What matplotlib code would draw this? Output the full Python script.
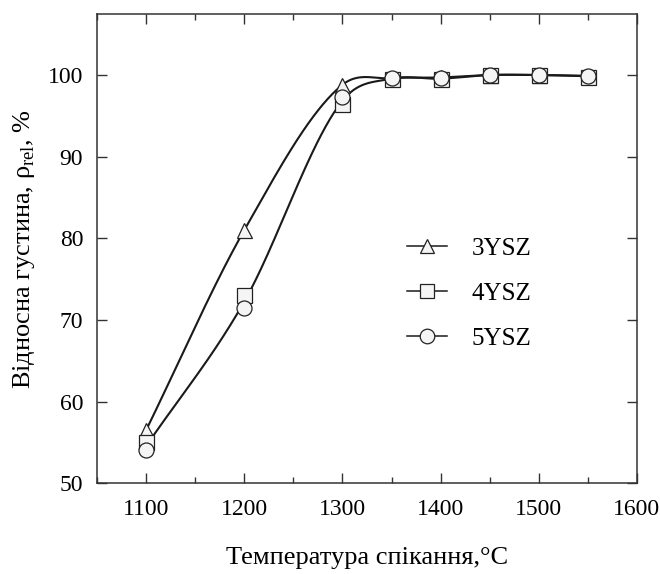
import numpy as np
import matplotlib
matplotlib.use("Agg")
import matplotlib.pyplot as plt
from matplotlib.ticker import MultipleLocator

plt.rcParams['font.family'] = ['Liberation Serif', 'DejaVu Serif']
plt.rcParams['mathtext.fontset'] = 'custom'
plt.rcParams['mathtext.rm'] = 'Liberation Serif'

# sintering temperature, deg C
temp = [1100, 1200, 1300, 1350, 1400, 1450, 1500, 1550]

# relative density, %
dens_3ysz = [56.5, 81.0, 98.8, 99.6, 99.7, 100.0, 100.0, 99.9]
dens_4ysz = [55.0, 73.0, 96.4, 99.5, 99.5, 100.0, 100.0, 99.8]
dens_5ysz = [54.1, 71.5, 97.3, 99.6, 99.6, 100.0, 100.0, 99.9]

labels = ["3YSZ", "4YSZ", "5YSZ"]
markers = ["^", "s", "o"]


def smooth(x, y, xs):
    # cubic Hermite curve, slope at each knot = mean of neighbouring chords
    x = np.asarray(x, float)
    y = np.asarray(y, float)
    h = np.diff(x)
    d = np.diff(y) / h
    n = len(x)
    m = np.zeros(n)
    m[0] = d[0]
    m[-1] = d[-1]
    for i in range(1, n-1):
        m[i] = 0.5*(d[i-1] + d[i])
    idx = np.clip(np.searchsorted(x, xs) - 1, 0, n-2)
    t = (xs - x[idx]) / h[idx]
    h00 = 2*t**3 - 3*t**2 + 1
    h10 = t**3 - 2*t**2 + t
    h01 = -2*t**3 + 3*t**2
    h11 = t**3 - t**2
    return h00*y[idx] + h10*h[idx]*m[idx] + h01*y[idx+1] + h11*h[idx]*m[idx+1]


fig = plt.figure(figsize=(6.6, 5.74), dpi=100)
ax = fig.add_axes([0.147, 0.158, 0.818, 0.818])

# one fit for 3YSZ, one shared fit for the 4YSZ / 5YSZ pair
xs = np.linspace(temp[0], temp[-1], 500)
dens_45 = (np.array(dens_4ysz) + np.array(dens_5ysz)) / 2
for dens in [dens_3ysz, dens_45]:
    ax.plot(xs, smooth(temp, dens, xs), "-", color="#1a1a1a", lw=1.5, zorder=2)

for dens, mk, lab in zip([dens_3ysz, dens_4ysz, dens_5ysz], markers, labels):
    ax.plot(temp, dens, linestyle="none", marker=mk, ms=10.8, mfc="#f5f5f5",
            mec="#222222", mew=0.9, zorder=3)
    ax.plot([], [], "-", color="#1a1a1a", lw=1.1, marker=mk, ms=10.5,
            mfc="#f5f5f5", mec="#222222", mew=0.9, label=lab)

ax.set_xlim(1050, 1600)
ax.set_ylim(50, 107.5)
ax.xaxis.set_major_locator(MultipleLocator(100))
ax.xaxis.set_minor_locator(MultipleLocator(50))
ax.yaxis.set_major_locator(MultipleLocator(10))

ax.tick_params(which="both", direction="in", top=True, right=True,
               labelsize=17, width=1.0, color="#333333")
ax.tick_params(which="major", length=7)
ax.tick_params(which="minor", length=4)
ax.tick_params(axis="x", pad=11)
ax.tick_params(axis="y", pad=10)
for s in ax.spines.values():
    s.set_linewidth(1.1)
    s.set_color("#333333")

ax.set_xlabel("Температура спікання,°C", fontsize=19, labelpad=20)
ax.set_ylabel("Відносна густина, ρ$_\\mathregular{rel}$, %", fontsize=19, labelpad=8)

ax.legend(loc="center left", bbox_to_anchor=(0.532, 0.404), frameon=False,
          fontsize=18, handlelength=1.6, labelspacing=0.91, handletextpad=1.0)

fig.savefig("out.png", dpi=100)
